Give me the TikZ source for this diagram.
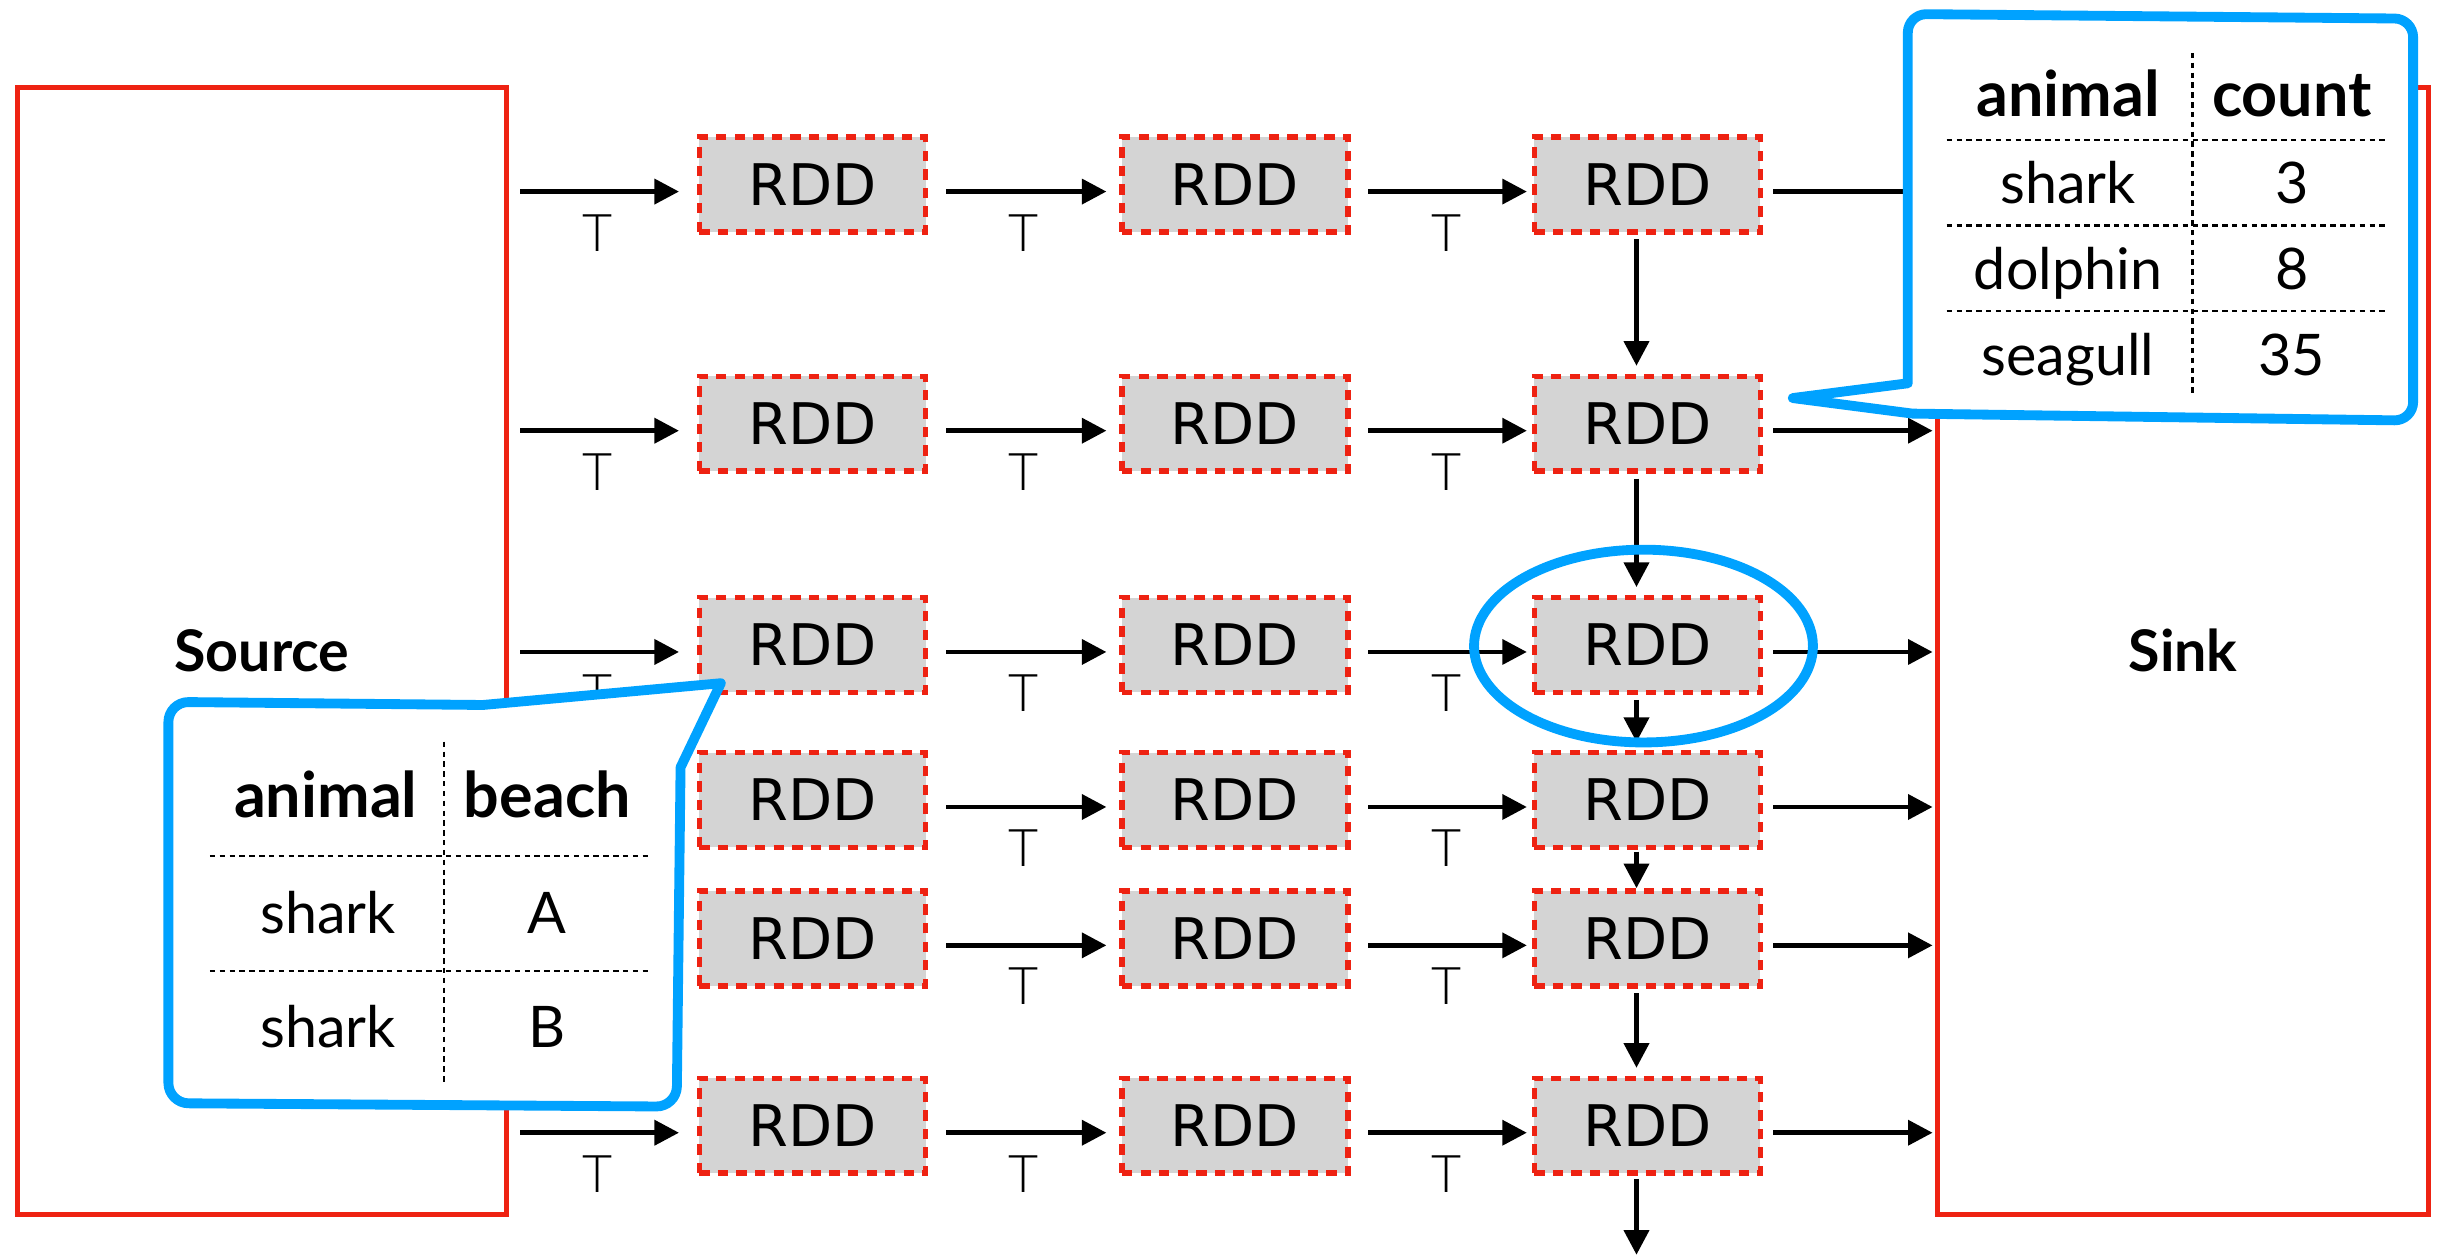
\documentclass[tikz,border=0pt]{standalone}
\usepackage{fontspec}
\setmainfont{Lato}
\newfontfamily\rddfont{DejaVu Sans}
\IfFontExistsTF{Lato Light}{\newfontfamily\thinfont{Lato Light}}{\newfontfamily\thinfont{Lato}}
\usetikzlibrary{arrows.meta,calc,shapes.geometric}
\definecolor{boxred}{RGB}{238,34,18}
\definecolor{hlblue}{RGB}{0,162,255}
\definecolor{rddgray}{RGB}{212,212,212}
\begin{document}
\begin{tikzpicture}[x=0.02cm, y=-0.02cm,
  rdd/.style={draw=boxred, fill=rddgray, line width=2pt, dash pattern=on 3.8pt off 3pt,
    minimum width=2.91cm, minimum height=1.22cm, inner sep=0pt,
    font=\rddfont\fontsize{21}{25}\selectfont},
  endbox/.style={draw=boxred, line width=1.8pt, inner sep=0pt,
    font=\bfseries\fontsize{21}{25}\selectfont},
  arr/.style={line width=1.8pt, -{Triangle[length=9pt,width=9pt]}},
  tlab/.style={font=\thinfont\fontsize{19}{21}\selectfont, inner sep=0pt},
  callout/.style={draw=hlblue, fill=white, line width=3.6pt, line join=round},
  thead/.style={font=\bfseries\fontsize{23}{26}\selectfont, anchor=base, inner sep=0pt},
  tcell/.style={font=\fontsize{21}{24}\selectfont, anchor=base, inner sep=0pt},
  tabrule/.style={line width=1pt, dash pattern=on 2pt off 1.6pt},
]
\useasboundingbox (0,0) rectangle (1568,808.4);

% source and sink
\node[endbox, minimum width=6.28cm, minimum height=14.5cm] (src) at (168.5,418.5) {Source};
\node[endbox, minimum width=6.32cm, minimum height=14.5cm] (snk) at (1404,418.5) {Sink};

% RDD grid
\foreach \r/\y in {1/118.7, 2/272.5, 3/414.8, 4/514.5, 5/603.5, 6/724} {
  \node[rdd] (a\r) at (522.5,\y) {RDD};
  \node[rdd] (b\r) at (794.3,\y) {RDD};
  \node[rdd] (c\r) at (1059.5,\y) {RDD};
}

% source -> first column
\foreach \r in {1,2,3,6} {
  \draw[arr, shorten <=0.15cm, shorten >=0.226cm]
    ($(src.east|-a\r.west)+(0,4.5)$) -- ($(a\r.west)+(0,4.5)$)
    node[tlab, pos=0.473, yshift=-0.53cm] {T};
}
% column 1 -> column 2 -> column 3 -> sink
\foreach \r in {1,...,6} {
  \draw[arr, shorten <=0.234cm, shorten >=0.164cm]
    ($(a\r.east)+(0,4.5)$) -- ($(b\r.west)+(0,4.5)$)
    node[tlab, midway, yshift=-0.53cm] {T};
  \draw[arr, shorten <=0.224cm, shorten >=0.06cm]
    ($(b\r.east)+(0,4.5)$) -- ($(c\r.west)+(0,4.5)$)
    node[tlab, pos=0.527, yshift=-0.53cm] {T};
  \draw[arr, shorten <=0.13cm, shorten >=0.03cm]
    ($(c\r.east)+(0,4.5)$) -- ($(snk.west|-c\r.east)+(0,4.5)$);
}
% vertical arrows in column 3
\foreach \p/\q in {1/2,2/3,3/4,5/6} {
  \draw[arr, shorten <=0.06cm, shorten >=0.1cm]
    ($(c\p.south)+(-7,0)$) -- ($(c\q.north)+(-7,0)$);
}
\draw[arr, shorten <=0.02cm, shorten >=0cm] ($(c4.south)+(-7,0)$) -- ($(c5.north)+(-7,0)$);
\coordinate (out) at (1052.5,807);
\draw[arr, shorten <=0.04cm] ($(c6.south)+(-7,0)$) -- (out);

% highlight ellipse
\node[ellipse, draw=hlblue, line width=3.6pt, minimum width=4.36cm, minimum height=2.48cm, inner sep=0pt]
  (hl) at ($(c3.center)+(-2.5,0.7)$) {};

% right callout
\draw[callout] (1153,256) -- (1227,246.5) [rounded corners=0.24cm] -- (1227,9) -- (1552,12)
  -- (1552,270.5) [sharp corners] -- (1230,266) -- cycle;
\draw[tabrule] (1410,34) -- (1410,255);
\foreach \yy in {90,145,200} \draw[tabrule] (1252,\yy) -- (1535,\yy);
\node[thead] (rh1) at (1330,75) {animal};
\node[thead] (rh2) at (1474,75) {count};
\node[tcell] (r11) at (1330,131) {shark};
\node[tcell] (r12) at (1474,131) {3};
\node[tcell] (r21) at (1330,186) {dolphin};
\node[tcell] (r22) at (1474,186) {8};
\node[tcell] (r31) at (1330,241.8) {seagull};
\node[tcell] (r32) at (1474,241.8) {35};

% left callout
\draw[callout] (310.6,453.4) -- (463.6,439.4) -- (437.7,493.5) [rounded corners=0.26cm]
  -- (435.2,711.7) -- (108.3,709.5) -- (108.3,451.4) [sharp corners] -- cycle;
\draw[tabrule] (285.6,477) -- (285.6,697);
\foreach \yy in {550.5,624.5} \draw[tabrule] (135,\yy) -- (418,\yy);
\node[thead] (lh1) at (209.5,526) {animal};
\node[thead] (lh2) at (352,526) {beach};
\node[tcell] (l11) at (211,600.6) {shark};
\node[tcell] (l12) at (352,600.6) {A};
\node[tcell] (l21) at (211,674) {shark};
\node[tcell] (l22) at (352,674) {B};
\end{tikzpicture}
\end{document}
